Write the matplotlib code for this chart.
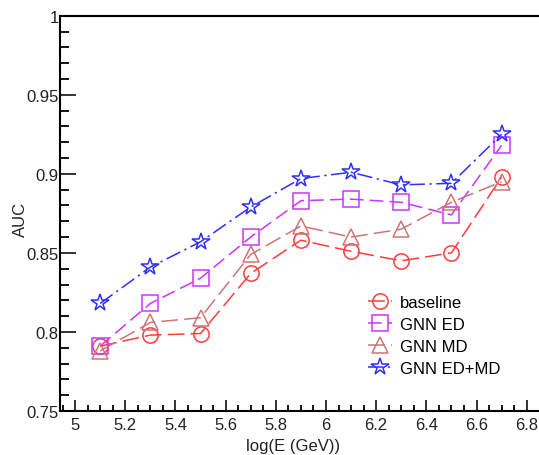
import matplotlib
matplotlib.use("Agg")
import matplotlib.pyplot as plt
from matplotlib.ticker import MultipleLocator, FuncFormatter

plt.rcParams['font.family'] = ['Liberation Sans', 'DejaVu Sans']

x = [5.1, 5.3, 5.5, 5.7, 5.9, 6.1, 6.3, 6.5, 6.7]
baseline = [0.791, 0.798, 0.799, 0.837, 0.858, 0.851, 0.845, 0.850, 0.898]
gnn_ed = [0.791, 0.818, 0.834, 0.860, 0.883, 0.884, 0.882, 0.874, 0.918]
gnn_md = [0.788, 0.806, 0.809, 0.849, 0.867, 0.860, 0.865, 0.882, 0.895]
gnn_edmd = [0.818, 0.841, 0.857, 0.879, 0.897, 0.901, 0.893, 0.894, 0.925]
labels = ["baseline", "GNN ED", "GNN MD", "GNN ED+MD"]

fig = plt.figure(figsize=(5.39, 4.56), dpi=100)
ax = fig.add_axes([60/539, 1-412/456, 1-60/539, (412-16.7)/456])

styles = [
    (baseline, '#ff3c3c', 'o', (0, (11, 4))),
    (gnn_ed, '#cc33ff', 's', (0, (9, 4))),
    (gnn_md, '#cd7575', '^', (0, (11, 4))),
    (gnn_edmd, '#2f2fff', '*', (0, (10, 3, 1.5, 3))),
]
for (vals, col, mk, ls), lab in zip(styles, labels):
    ax.plot(x, vals, color=col, linestyle=ls, linewidth=1.1, marker=mk,
            markersize=13 if mk == '*' else 11, markerfacecolor='none',
            markeredgecolor=col, markeredgewidth=1.1, label=lab)

ax.set_xlim(4.94, 6.849)
ax.set_ylim(0.75, 1.0)
ax.xaxis.set_major_locator(MultipleLocator(0.2))
ax.xaxis.set_minor_locator(MultipleLocator(0.05))
ax.yaxis.set_major_locator(MultipleLocator(0.05))
ax.yaxis.set_minor_locator(MultipleLocator(0.01))

def fmt(v, pos):
    return f"{v:.2f}".rstrip('0').rstrip('.')
ax.xaxis.set_major_formatter(FuncFormatter(fmt))
ax.yaxis.set_major_formatter(FuncFormatter(fmt))

ax.spines['right'].set_visible(False)
for s in ['left', 'bottom', 'top']:
    ax.spines[s].set_linewidth(1.5)
ax.tick_params(axis='x', which='major', direction='in', length=8, width=1.3,
               labelsize=12, pad=4, colors='#222222')
ax.tick_params(axis='x', which='minor', direction='in', length=4.5, width=1.3)
ax.tick_params(axis='y', which='major', direction='in', length=11.5, width=1.3,
               labelsize=12, pad=1, colors='#222222')
ax.tick_params(axis='y', which='minor', direction='in', length=6.5, width=1.3)
ax.tick_params(top=False, right=False)

ax.set_xlabel("log(E (GeV))", fontsize=12, color='#222222')
ax.xaxis.set_label_coords(0.486, -0.068)
ax.set_ylabel("AUC", fontsize=12, color='#222222')
ax.yaxis.set_label_coords(-0.066, 0.486)

leg = ax.legend(loc='upper left', bbox_to_anchor=(0.63, 0.31), frameon=False,
                fontsize=12, handlelength=1.4, handletextpad=0.5,
                labelspacing=0.42, borderaxespad=0)

fig.savefig("out.png", dpi=100)
